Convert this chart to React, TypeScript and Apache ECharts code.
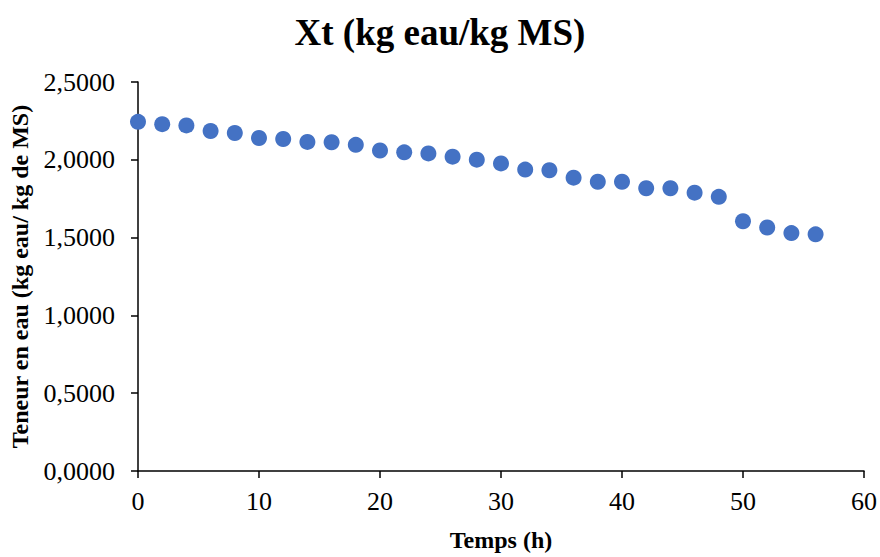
import React, { useEffect, useRef } from "react";
import * as echarts from "echarts";

// Drying time (h) and moisture content Xt (kg water / kg dry matter)
const temps = [0, 2, 4, 6, 8, 10, 12, 14, 16, 18, 20, 22, 24, 26, 28, 30, 32, 34, 36, 38, 40, 42, 44, 46, 48, 50, 52, 54, 56];
const teneur = [
  2.244, 2.229, 2.221, 2.185, 2.172, 2.14, 2.134, 2.115, 2.113, 2.096,
  2.06, 2.048, 2.041, 2.02, 2.001, 1.977, 1.937, 1.933, 1.885, 1.859,
  1.859, 1.817, 1.817, 1.789, 1.762, 1.605, 1.565, 1.529, 1.521,
];

const FONT = "'Liberation Serif', 'Times New Roman', serif";

export default function App() {
  const ref = useRef<HTMLDivElement>(null);

  useEffect(() => {
    if (!ref.current) return;
    const chart = echarts.init(ref.current, null, { renderer: "svg" });
    const points = temps.map((t, i) => [t, teneur[i]]);
    chart.setOption({
      animation: false,
      backgroundColor: "#ffffff",
      title: {
        text: "Xt (kg eau/kg MS)",
        left: "center",
        top: 9,
        textStyle: { fontFamily: FONT, fontWeight: "bold", fontSize: 37, color: "#000" },
      },
      grid: { left: 138, right: 16, top: 82, bottom: 82 },
      xAxis: {
        type: "value",
        min: 0,
        max: 60,
        interval: 10,
        name: "Temps (h)",
        nameLocation: "middle",
        nameGap: 57,
        nameTextStyle: { fontFamily: FONT, fontWeight: "bold", fontSize: 24, color: "#000" },
        axisLine: { lineStyle: { color: "#000", width: 1.5 } },
        axisTick: { show: true, length: 7, lineStyle: { color: "#000", width: 1.5 } },
        axisLabel: { fontFamily: FONT, fontSize: 26, color: "#000", margin: 17 },
        splitLine: { show: false },
      },
      yAxis: {
        type: "value",
        min: 0,
        max: 2.5,
        interval: 0.5,
        name: "Teneur en eau (kg eau/ kg de MS)",
        nameLocation: "middle",
        nameGap: 106,
        nameTextStyle: { fontFamily: FONT, fontWeight: "bold", fontSize: 24, color: "#000" },
        axisLine: { show: true, lineStyle: { color: "#000", width: 1.5 } },
        axisTick: { show: true, length: 7, lineStyle: { color: "#000", width: 1.5 } },
        axisLabel: {
          fontFamily: FONT,
          fontSize: 26,
          color: "#000",
          margin: 23,
          formatter: (v: number) => v.toFixed(4).replace(".", ","),
        },
        splitLine: { show: false },
      },
      series: [
        {
          type: "scatter",
          data: points,
          symbol: "circle",
          symbolSize: 16,
          itemStyle: { color: "#4472C4", opacity: 1 },
        },
      ],
    });
    return () => chart.dispose();
  }, []);

  return (
    <div
      ref={ref}
      style={{ position: "absolute", left: 0, top: 0, width: 880, height: 557 }}
    />
  );
}
